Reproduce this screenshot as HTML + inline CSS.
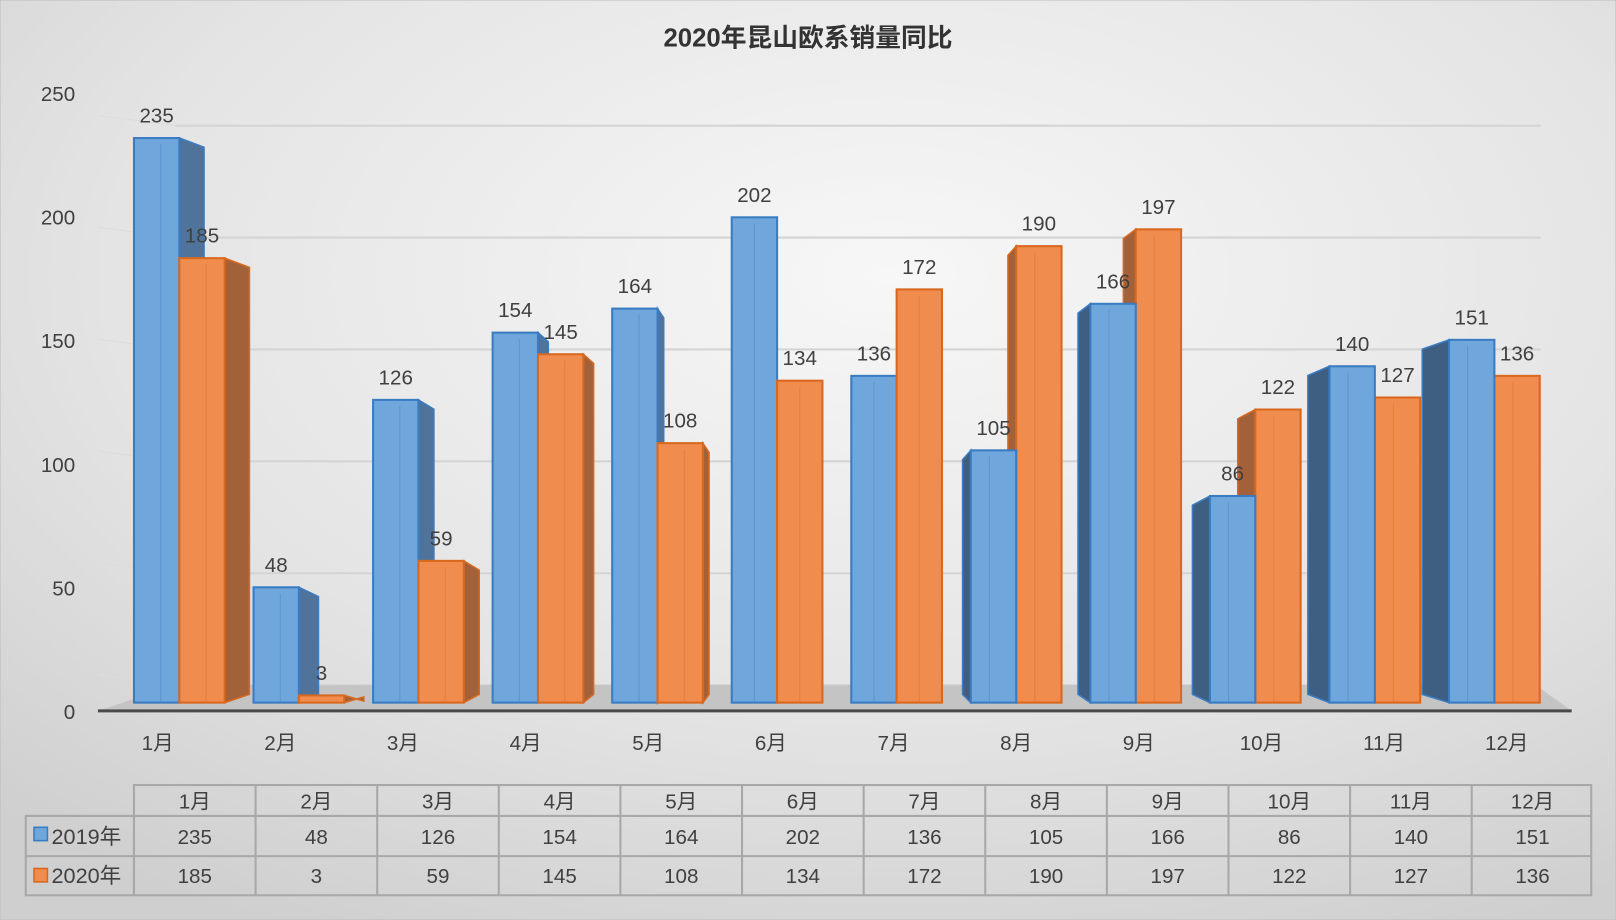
<!DOCTYPE html>
<html><head><meta charset="utf-8">
<style>
html,body{margin:0;padding:0;width:1616px;height:920px;overflow:hidden;background:#fff}
svg{display:block}
text{font-family:"Liberation Sans","Noto Sans CJK SC",sans-serif;fill:#404040}
</style></head>
<body>
<svg id="s" width="1616" height="920" viewBox="0 0 1568 893" preserveAspectRatio="none" xmlns="http://www.w3.org/2000/svg">
<defs>
<radialGradient id="bg" cx="0.55" cy="0.3" r="0.8">
<stop offset="0" stop-color="#f7f7f7"/><stop offset="0.6" stop-color="#e4e4e4"/><stop offset="1" stop-color="#cfcfcf"/>
</radialGradient>
</defs>
<rect x="0" y="0" width="1568" height="893" fill="url(#bg)" stroke="#bdbdbd"/>
<text x="784" y="45" text-anchor="middle" font-size="25" font-weight="bold" style="fill:#333">2020年昆山欧系销量同比</text>
<g id="g"></g>
</svg>
<script>
const g=document.getElementById('g');
let h='';
const a=[235,48,126,154,164,202,136,105,166,86,140,151];
const b=[185,3,59,145,108,134,172,190,197,122,127,136];
for(let k=0;k<=5;k++){const y=665-k*108.6;h+=`<line x1="170" y1="${y}" x2="1495" y2="${y}" stroke="#d4d4d4" stroke-width="2"/>`;
 h+=`<line x1="95" y1="${y-10}" x2="170" y2="${y}" stroke="#dcdcdc" stroke-width="1"/>`;}
[0,50,100,150,200,250].forEach((v,k)=>{h+=`<text x="73" y="${698-k*120}" text-anchor="end" font-size="20">${v}</text>`});
h+=`<polygon points="170,665 1490,665 1525,690 95,690" fill="#c4c4c4"/>`;
h+=`<line x1="95" y1="690" x2="1525" y2="690" stroke="#4a4a4a" stroke-width="3"/>`;
const sc=2.332, base=682;
function bar(x,v,fill,side,edge,dx){
 const top=base-v*sc;
 const hh=base-top;
 const t2=top+Math.min(9,hh*0.5+2);
 const b2=base-Math.min(8,hh*0.5+2);
 let s='';
 if(dx>0){s+=`<polygon points="${x+44},${top} ${x+44+dx},${t2} ${x+44+dx},${b2} ${x+44},${base}" fill="${side}" stroke="${edge}" stroke-width="1.5"/>`;}
 else if(dx<0){s+=`<polygon points="${x},${top} ${x+dx},${t2} ${x+dx},${b2} ${x},${base}" fill="${side}" stroke="${edge}" stroke-width="1.5"/>`;}
 s+=`<rect x="${x}" y="${top}" width="44" height="${hh}" fill="${fill}" stroke="${edge}" stroke-width="2"/>`;
 s+=`<line x1="${x+(dx>0?26:dx<0?18:22)}" y1="${top+6}" x2="${x+(dx>0?26:dx<0?18:22)}" y2="${base}" stroke="${edge}" stroke-opacity="0.35"/>`;
 return s;
}
for(let i=0;i<12;i++){
 const x=130+116*i;
 const dx=Math.round(24*(5.3-i)/5.3);
 const d=Math.abs(dx)<4?0:dx;
 if(d>=0){h+=bar(x,a[i],'#6fa6dc','#4f739a','#3a7cc2',d);h+=bar(x+44,b[i],'#ef8c4e','#a3613a','#d9681f',d);}
 else{h+=bar(x+44,b[i],'#ef8c4e','#a3613a','#d9681f',d);h+=bar(x,a[i],'#6fa6dc','#3f5f82','#3a7cc2',d);}
 h+=`<text x="${x+22}" y="${base-a[i]*sc-15}" text-anchor="middle" font-size="20">${a[i]}</text>`;
 h+=`<text x="${x+66}" y="${base-b[i]*sc-15}" text-anchor="middle" font-size="20">${b[i]}</text>`;
 h+=`<text x="${153+119*i}" y="728" text-anchor="middle" font-size="20">${i+1}月</text>`;
}
const L='#a8a8a8';
h+=`<rect x="130" y="762" width="1414" height="107" fill="none" stroke="${L}" stroke-width="2"/>`;
h+=`<rect x="25" y="792" width="105" height="77" fill="none" stroke="${L}" stroke-width="2"/>`;
h+=`<line x1="25" y1="792" x2="1544" y2="792" stroke="${L}" stroke-width="2"/>`;
h+=`<line x1="25" y1="831" x2="1544" y2="831" stroke="${L}" stroke-width="2"/>`;
for(let i=1;i<12;i++){h+=`<line x1="${130+118*i}" y1="762" x2="${130+118*i}" y2="869" stroke="${L}" stroke-width="2"/>`;}
for(let i=0;i<12;i++){const cx=130+118*i+59;
 h+=`<text x="${cx}" y="785" text-anchor="middle" font-size="20">${i+1}月</text>`;
 h+=`<text x="${cx}" y="819" text-anchor="middle" font-size="20">${a[i]}</text>`;
 h+=`<text x="${cx}" y="857" text-anchor="middle" font-size="20">${b[i]}</text>`;}
h+=`<rect x="33" y="803" width="13" height="13" fill="#6fa6dc" stroke="#3a7cc2" stroke-width="1.5"/>`;
h+=`<text x="50" y="819" font-size="21">2019年</text>`;
h+=`<rect x="33" y="843" width="13" height="13" fill="#ef8c4e" stroke="#d9681f" stroke-width="1.5"/>`;
h+=`<text x="50" y="857" font-size="21">2020年</text>`;
g.innerHTML=h;
</script>
</body></html>
